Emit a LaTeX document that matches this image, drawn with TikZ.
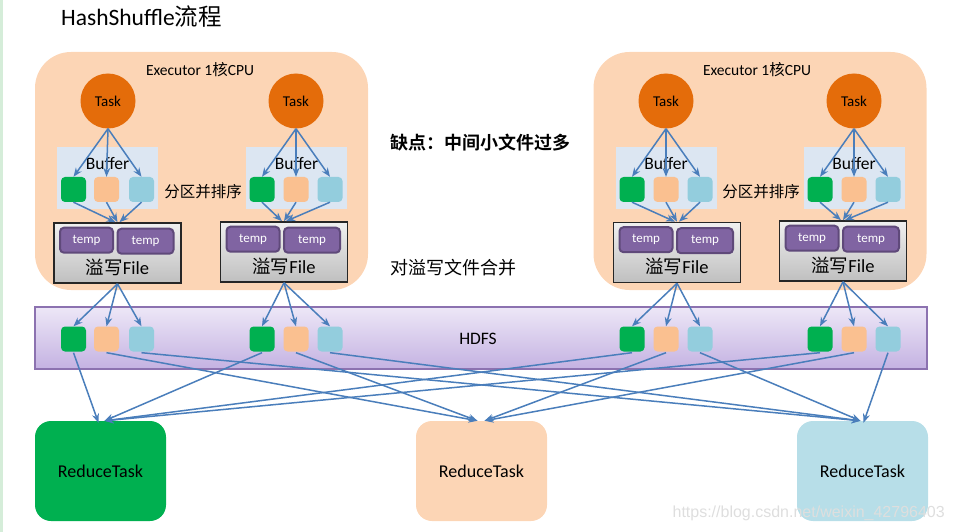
\documentclass[tikz,border=0pt]{standalone}
\usepackage{fontspec}
\setmainfont{Carlito}
\newfontfamily\cjk{Noto Sans CJK SC}
\newfontfamily\cjkb{Noto Sans CJK SC Bold}
\newfontfamily\wmfont{Liberation Sans}
\usetikzlibrary{arrows.meta}
\definecolor{execfill}{HTML}{FCD5B5}
\definecolor{taskfill}{HTML}{E46C0A}
\definecolor{buffill}{HTML}{DCE6F2}
\definecolor{pgreen}{HTML}{00B050}
\definecolor{porange}{HTML}{FAC090}
\definecolor{pblue}{HTML}{93CDDD}
\definecolor{tempfill}{HTML}{8064A2}
\definecolor{tempdraw}{HTML}{5F497A}
\definecolor{hdfstop}{HTML}{EDE7F7}
\definecolor{hdfsbot}{HTML}{C4B2E2}
\definecolor{hdfsdraw}{HTML}{8C72B0}
\definecolor{arrowc}{HTML}{4A7EBB}
\definecolor{rblue}{HTML}{B7DEE8}
\definecolor{stripe}{HTML}{D5EDD9}
\tikzset{
  execbox/.style={fill=execfill, draw=none, rounded corners=36pt, minimum width=333pt, minimum height=238pt, inner sep=0pt},
  taskc/.style={circle, fill=taskfill, draw=none, minimum size=55pt, inner sep=0pt, font=\fontsize{15}{15}\selectfont},
  bufpanel/.style={fill=buffill, draw=none, minimum width=101pt, minimum height=62pt, inner sep=0pt},
  sq/.style={rounded corners=4pt, minimum size=25pt, inner sep=0pt, draw=none},
  filebox/.style={draw=black!85, line width=1.6pt, top color=white!94!black, bottom color=white!75!black, minimum width=127pt, minimum height=60pt, inner sep=0pt},
  tempbox/.style={fill=tempfill, draw=tempdraw, line width=2pt, rounded corners=4pt, minimum height=25pt, inner sep=0pt, text=white, font=\fontsize{13}{13}\selectfont},
  conn/.style={draw=arrowc, line width=1.5pt, -{Stealth[length=9pt,width=7pt]}},
  reduce/.style={rounded corners=16pt, minimum width=131pt, minimum height=100pt, inner sep=0pt, draw=none, font=\fontsize{18}{18}\selectfont},
  lbl/.style={inner sep=0pt}
}
\begin{document}
\begin{tikzpicture}[x=1pt,y=-1pt]
\useasboundingbox (0,0) rectangle (954,532);
\fill[stripe] (0,0) rectangle (2.5,532);
% title
\node[lbl, anchor=west, font=\fontsize{23.5}{23.5}\selectfont] (title) at (61,17) {HashShuffle{\cjk 流程}};
% executors
\node[execbox] (exL) at (201.5,171) {};
\node[execbox] (exR) at (760,171) {};
\node[lbl, font=\fontsize{15.5}{15.5}\selectfont] (exLt) at (200,70) {Executor 1{\cjk 核}CPU};
\node[lbl, font=\fontsize{15.5}{15.5}\selectfont] (exRt) at (757,70) {Executor 1{\cjk 核}CPU};
% HDFS band
\node[draw=hdfsdraw, line width=1.6pt, top color=hdfstop, bottom color=hdfsbot, minimum width=892pt, minimum height=62pt, inner sep=0pt] (hdfs) at (481,338) {};
\node[lbl, font=\fontsize{17.5}{17.5}\selectfont] (hdfst) at (478,339) {HDFS};
% groups: name / task x / buffer x / sq1 / sq2 / sq3 / file x / file y
\foreach \g/\tx/\bx/\sa/\sb/\sc/\fx/\fy in {A/108/107.5/73.5/106.5/141.5/117.5/253, B/296/296.5/262/296/330/284/252, C/666/666/632/666/700/677/252.5, D/854/854/820/854/888/843/251}{
  \node[taskc] (task\g) at (\tx,101) {Task};
  \node[bufpanel] (buf\g) at (\bx,178) {};
  \node[lbl, font=\fontsize{17.5}{17.5}\selectfont] (buft\g) at (\bx,164) {Buffer};
  \node[sq, fill=pgreen] (bg\g) at (\sa,189.5) {};
  \node[sq, fill=porange] (bo\g) at (\sb,189.5) {};
  \node[sq, fill=pblue] (bb\g) at (\sc,189.5) {};
  \node[filebox] (file\g) at (\fx,\fy) {};
  \node[tempbox, minimum width=53pt] (tmpa\g) at ([xshift=-31pt,yshift=-18pt]file\g.north) {temp};
  \node[tempbox, minimum width=56pt] (tmpb\g) at ([xshift=28pt,yshift=-19pt]file\g.north) {temp};
  \node[lbl, font=\fontsize{18.5}{18.5}\selectfont] (filet\g) at ([yshift=-45pt]file\g.north) {{\cjk 溢写}File};
  \node[sq, fill=pgreen] (hg\g) at (\sa,339) {};
  \node[sq, fill=porange] (ho\g) at (\sb,339) {};
  \node[sq, fill=pblue] (hb\g) at (\sc,339) {};
  \draw[conn] (task\g.south) -- (bg\g.north);
  \draw[conn] (task\g.south) -- (bo\g.north);
  \draw[conn] (task\g.south) -- (bb\g.north);
  \draw[conn] (bg\g.south) -- ([xshift=-2pt]file\g.north);
  \draw[conn] (bo\g.south) -- (file\g.north);
  \draw[conn] (bb\g.south) -- ([xshift=2pt]file\g.north);
  \draw[conn] (file\g.south) -- (hg\g.north);
  \draw[conn] (file\g.south) -- (ho\g.north);
  \draw[conn] (file\g.south) -- (hb\g.north);
}
% side labels
\node[lbl, font=\cjk\fontsize{15.5}{15.5}\selectfont] (sortL) at (203,192) {分区并排序};
\node[lbl, font=\cjk\fontsize{15.5}{15.5}\selectfont] (sortR) at (761,192) {分区并排序};
\node[lbl, font=\cjkb\fontsize{18}{18}\selectfont] (note1) at (480,143) {缺点：中间小文件过多};
\node[lbl, font=\cjk\fontsize{18}{18}\selectfont] (note2) at (453,268) {对溢写文件合并};
% reduce tasks
\node[reduce, fill=pgreen] (rt1) at (100.5,471) {ReduceTask};
\node[reduce, fill=execfill] (rt2) at (481.5,471) {ReduceTask};
\node[reduce, fill=rblue] (rt3) at (862.5,471) {ReduceTask};
% HDFS -> reduce
\draw[conn] ([yshift=-1pt]hgA.south) -- ([xshift=-2pt,yshift=-2pt]rt1.north);
\foreach \g in {B,C,D}{\draw[conn] ([yshift=-1pt]hg\g.south) -- ([xshift=4pt]rt1.north);}
\foreach \g in {A,B}{\draw[conn] ([yshift=-1pt]ho\g.south) -- ([xshift=-4pt]rt2.north);}
\foreach \g in {C,D}{\draw[conn] ([yshift=-1pt]ho\g.south) -- ([xshift=3pt]rt2.north);}
\foreach \g in {A,B,C}{\draw[conn] ([yshift=-1pt]hb\g.south) -- ([xshift=-2pt]rt3.north);}
\draw[conn] ([yshift=-1pt]hbD.south) -- ([xshift=1pt,yshift=-2pt]rt3.north);
% watermark
\node[lbl, anchor=east, text=black!13, font=\wmfont\fontsize{16}{16}\selectfont] (wm) at (945,513) {https://blog.csdn.net/weixin\_42796403};
\end{tikzpicture}
\end{document}
